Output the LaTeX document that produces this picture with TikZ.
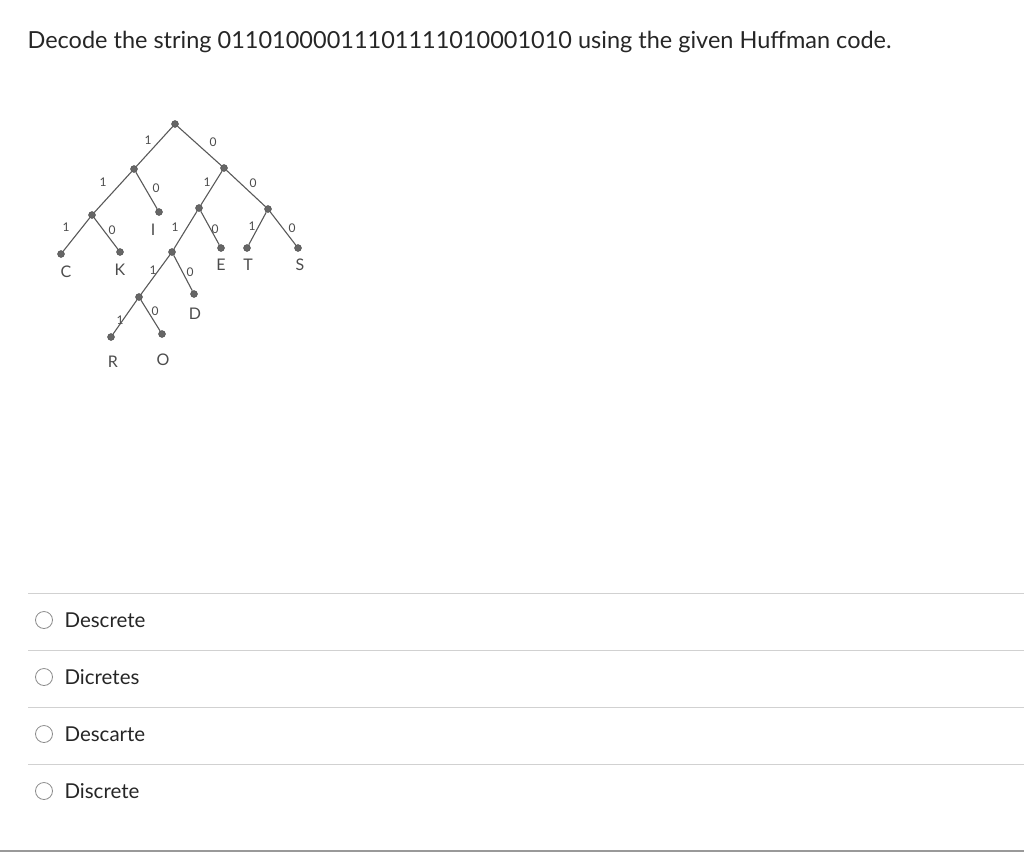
\documentclass[tikz,border=0pt]{standalone}
\usepackage{fontspec}
\setmainfont{Lato}
\usetikzlibrary{positioning}
\tikzset{dot/.style={circle,fill=black!60,draw=black!70,inner sep=0pt,minimum size=7pt}}
\tikzset{edge/.style={draw=black!65,line width=1.1pt}}
\tikzset{bit/.style={font=\fontsize{12}{12}\selectfont,text=black!70}}
\tikzset{lett/.style={font=\fontsize{16}{16}\selectfont,text=black!70}}
\tikzset{sep/.style={draw=black!18,line width=0.8pt}}
\tikzset{radio/.style={circle,draw=black!45,line width=0.8pt,minimum size=17pt,inner sep=0pt}}
\tikzset{opt/.style={anchor=west,font=\fontsize{20.5}{20.5}\selectfont,text=black!85}}
\begin{document}
\begin{tikzpicture}[x=1pt,y=-1pt]
\useasboundingbox (0,0) rectangle (1024,867);
\node[anchor=west,font=\fontsize{23.5}{23.5}\selectfont,text=black!85] (title) at (24,42)
	{Decode the string 01101000011101111010001010 using the given Huffman code.};
% tree nodes
\node[dot] (r) at (175,124) {};
\node[dot] (n1) at (134,169) {};
\node[dot] (n0) at (224,168) {};
\node[dot] (n11) at (92,215) {};
\node[dot] (lI) at (159,212) {};
\node[dot] (n01) at (199,208) {};
\node[dot] (n00) at (268,209) {};
\node[dot] (lC) at (61,254) {};
\node[dot] (lK) at (120,252) {};
\node[dot] (n011) at (172,252) {};
\node[dot] (lE) at (221,248) {};
\node[dot] (lT) at (247,248) {};
\node[dot] (lS) at (298,248) {};
\node[dot] (n0111) at (139,297) {};
\node[dot] (lD) at (194,294) {};
\node[dot] (lR) at (111,337) {};
\node[dot] (lO) at (162,334) {};
\foreach \a/\b in {r/n1,r/n0,n1/n11,n1/lI,n0/n01,n0/n00,n11/lC,n11/lK,
	n01/n011,n01/lE,n00/lT,n00/lS,n011/n0111,n011/lD,n0111/lR,n0111/lO}
	\draw[edge] (\a) -- (\b);
% letters
\foreach \n/\t/\x/\y in {tC/C/66/272,tK/K/120/270,tI/I/153/230,tE/E/221/265,
	tT/T/248/265,tS/S/300/265,tD/D/195/314,tR/R/113/362,tO/O/163/360}
	\node[lett] (\n) at (\x,\y) {\t};
% bits
\foreach \n/\t/\x/\y in {b1/1/148/140,b2/0/213/142,b3/1/103/182,b4/0/156/188,
	b5/1/207/182,b6/0/253/183,b7/1/66/227,b8/0/112/230,b9/1/175/227,b10/0/215/229,
	b11/1/252/226,b12/0/292/228,b13/1/153/270,b14/0/190/272,b15/1/120/320,b16/0/155/311}
	\node[bit] (\n) at (\x,\y) {\t};
% answer list
\foreach \i/\t in {1/Descrete,2/Dicretes,3/Descarte,4/Discrete} {
	\draw[sep] (28,536+57*\i) -- (1024,536+57*\i);
	\node[radio] (c\i) at (44,563+57*\i) {};
	\node[opt] (o\i) at (61,563+57*\i) {\t};
}
\draw[draw=black!40,line width=1.2pt] (0,851) -- (1024,851);
\end{tikzpicture}
\end{document}
